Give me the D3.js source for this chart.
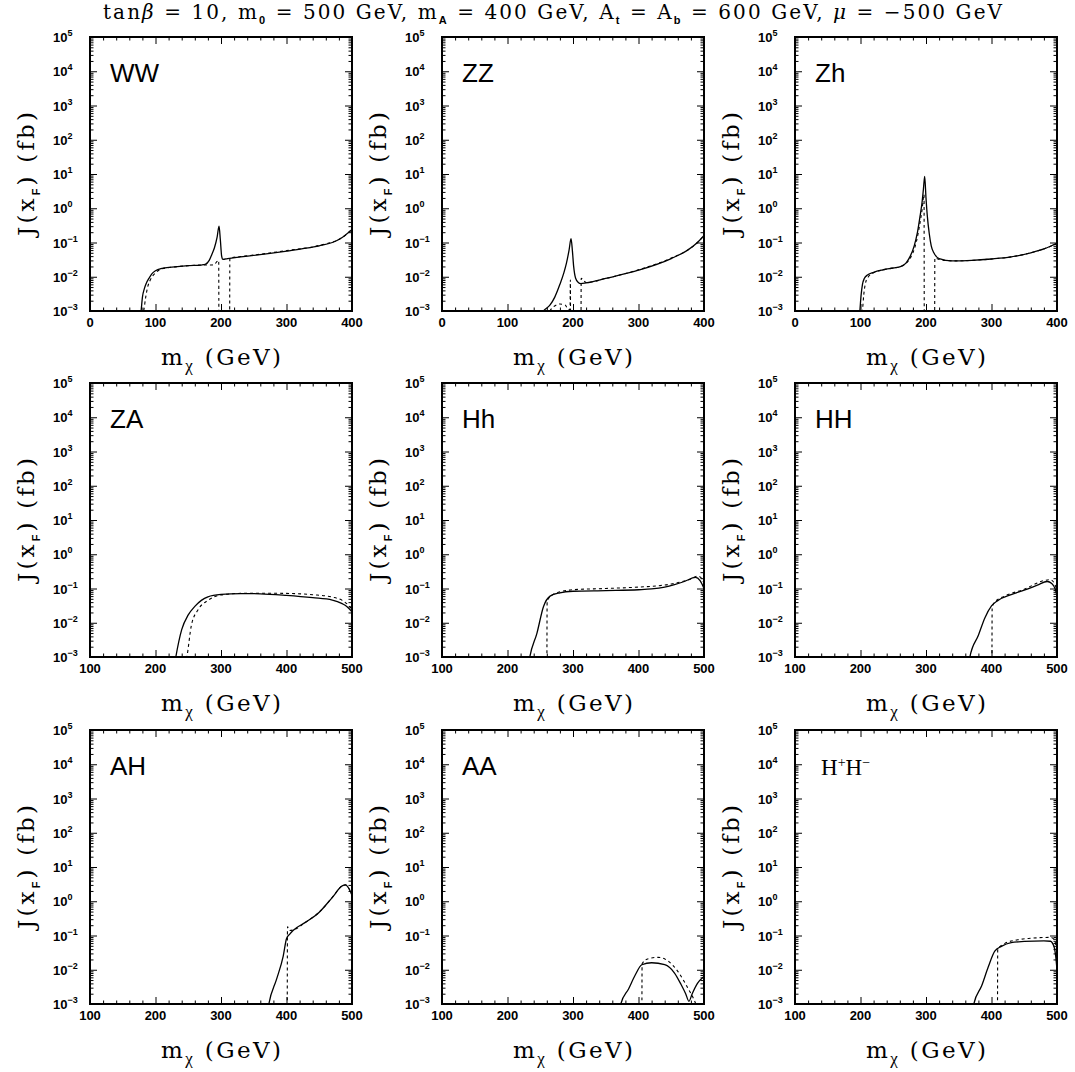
<!DOCTYPE html>
<html>
<head>
<meta charset="utf-8">
<script src="https://d3js.org/d3.v7.min.js"></script>
<style>
  body { margin: 0; background: #fff; }
  .frame { fill: none; stroke: #000; stroke-width: 2px; }
  .solid { fill: none; stroke: #000; stroke-width: 1.3px; }
  .dashed { fill: none; stroke: #000; stroke-width: 1.1px; stroke-dasharray: 3,3; }
  .mono { font-family: "DejaVu Serif", "Liberation Serif", serif; fill: #000; white-space: pre; }
</style>
</head>
<body>
<svg width="1075" height="1072"></svg>
<script>
// ---- data: [m_chi (GeV), J(x_F) (fb)] ----
var wwSolid = [[77,0.0007],[78,0.001],[80,0.0025],[83,0.0045],[86,0.0065],[90,0.009],[95,0.0125],[100,0.015],[110,0.0175],[125,0.019],[150,0.021],[170,0.022],[176,0.023],[182,0.03],[186,0.045],[190,0.07],[194,0.14],[197,0.3],[199,0.12],[201,0.04],[203,0.032],[210,0.034],[230,0.038],[250,0.042],[275,0.048],[300,0.056],[325,0.066],[350,0.08],[370,0.1],[385,0.14],[400,0.24]];
var wwDash = [[80,0.0007],[82,0.001],[85,0.0025],[88,0.005],[92,0.008],[100,0.013],[110,0.017],[125,0.019],[150,0.021],[175,0.022],[185,0.022],[190,0.023],[194,0.028],[196.5,0.03],[197,1e-5],[213,1e-5],[213.5,0.035],[230,0.039],[250,0.043],[300,0.058],[350,0.082],[385,0.14],[400,0.24]];

var zzSolid = [[150,0.0007],[155,0.001],[165,0.0015],[172,0.0025],[180,0.006],[186,0.013],[190,0.025],[194,0.06],[197,0.13],[199,0.06],[201,0.02],[204,0.009],[208,0.0068],[212,0.0063],[220,0.0066],[250,0.0089],[300,0.0155],[350,0.034],[375,0.06],[390,0.1],[400,0.16]];
var zzDash = [[160,0.0007],[166,0.0011],[172,0.0014],[180,0.0016],[188,0.0015],[193,0.0011],[195.5,0.0011],[196,0.008],[196.5,1e-5],[212,1e-5],[212.5,0.009],[220,0.0068],[250,0.0089],[300,0.016],[350,0.035],[375,0.06],[390,0.1],[400,0.16]];

var zhSolid = [[98,0.0006],[99,0.001],[101,0.003],[103,0.006],[106,0.009],[110,0.011],[120,0.0135],[135,0.016],[150,0.018],[162,0.02],[170,0.026],[176,0.04],[182,0.08],[187,0.2],[191,0.6],[194,1.5],[196,3.5],[198,8.5],[200,2.0],[202,0.6],[205,0.18],[208,0.08],[212,0.05],[220,0.034],[240,0.029],[270,0.03],[300,0.033],[330,0.038],[360,0.05],[380,0.065],[400,0.095]];
var zhDash = [[102,0.0006],[103,0.001],[105,0.003],[108,0.007],[112,0.01],[120,0.013],[135,0.016],[150,0.018],[162,0.02],[170,0.025],[176,0.035],[180,0.05],[185,0.1],[190,0.3],[194,0.9],[197,2.5],[197.5,1e-5],[213,1e-5],[213.5,0.035],[220,0.032],[240,0.029],[270,0.03],[300,0.033],[330,0.038],[360,0.05],[380,0.065],[400,0.095]];

var zaSolid = [[229,0.0006],[231,0.001],[240,0.0063],[250,0.017],[260,0.03],[270,0.045],[280,0.057],[300,0.067],[330,0.071],[360,0.07],[400,0.063],[440,0.054],[470,0.046],[485,0.036],[492,0.03],[500,0.021]];
var zaDash = [[246,0.0006],[248,0.001],[255,0.0088],[265,0.024],[280,0.045],[300,0.065],[330,0.072],[360,0.073],[400,0.072],[440,0.066],[470,0.056],[485,0.045],[495,0.032],[500,0.025]];

var hhSolid = [[232,0.0006],[234,0.001],[245,0.005],[255,0.03],[265,0.06],[280,0.075],[300,0.083],[350,0.087],[400,0.092],[420,0.097],[440,0.11],[455,0.13],[470,0.16],[487,0.21],[494,0.17],[500,0.1]];
var hhDash = [[260,1e-5],[260.5,0.04],[265,0.058],[280,0.08],[300,0.092],[350,0.1],[400,0.11],[430,0.12],[450,0.135],[470,0.165],[480,0.19],[490,0.23],[496,0.2],[500,0.14]];

var HHSolid = [[365,0.0006],[367,0.001],[380,0.0043],[390,0.014],[400,0.031],[410,0.045],[430,0.066],[450,0.09],[470,0.125],[485,0.16],[492,0.14],[497,0.1],[500,0.06]];
var HHDash = [[400.5,1e-5],[401,0.028],[405,0.04],[420,0.06],[450,0.095],[480,0.17],[490,0.18],[496,0.14],[500,0.09]];

var ahSolid = [[371,0.0006],[373,0.001],[385,0.0054],[395,0.025],[400,0.08],[405,0.11],[410,0.14],[430,0.25],[450,0.48],[470,1.3],[485,2.8],[490,3.0],[495,2.4],[500,1.5]];
var ahDash = [[401,1e-5],[401.5,0.18],[405,0.14],[410,0.145],[430,0.25],[450,0.48],[470,1.3],[485,2.8],[490,3.0],[495,2.4],[500,1.5]];

var aaSolid = [[371,0.0006],[373,0.001],[385,0.0028],[395,0.007],[405,0.014],[420,0.016],[440,0.014],[455,0.008],[465,0.0037],[472,0.002],[477,0.0012],[482,0.002],[490,0.004],[500,0.0064]];
var aaDash = [[405,1e-5],[405.5,0.015],[415,0.021],[430,0.023],[445,0.018],[460,0.009],[475,0.003],[485,0.0013],[492,0.0006]];

var hpmSolid = [[371,0.0006],[373,0.001],[385,0.0034],[395,0.012],[405,0.035],[415,0.048],[430,0.062],[450,0.067],[480,0.07],[490,0.068],[495,0.05],[498,0.025],[500,0.01]];
var hpmDash = [[409,1e-5],[409.5,0.04],[420,0.058],[440,0.075],[460,0.083],[490,0.088],[496,0.075],[500,0.03]];

var panelNames = ["WW","ZZ","Zh","ZA","Hh","HH","AH","AA","H+H-"];
var solids = [wwSolid, zzSolid, zhSolid, zaSolid, hhSolid, HHSolid, ahSolid, aaSolid, hpmSolid];
var dashes = [wwDash, zzDash, zhDash, zaDash, hhDash, HHDash, ahDash, aaDash, hpmDash];
var xDomains = [[0,400],[100,500],[100,500]];   // per row
var yExponents = [-3,-2,-1,0,1,2,3,4,5];

// ---- layout ----
var colLeft = [90, 442, 795], rowTop = [37, 383, 730], pw = 262, ph = 274;
var svg = d3.select("svg");
var defs = svg.append("defs");
var sans = "Liberation Sans, Arial, sans-serif";

function rich(sel, parts, small, shift) {
  var off = 0;
  parts.forEach(function(pt) {
    var t = sel.append("tspan").text(pt[0]);
    var target = pt[1] === "sub" ? shift : pt[1] === "sup" ? -shift : 0;
    if (target !== off) { t.attr("dy", target - off); off = target; }
    if (pt[1] !== "n") t.attr("font-size", small);
    if (pt[2]) t.attr("style", pt[2]);
  });
}

var subStyle = "font-family:" + sans + ";font-weight:bold";

// title
rich(svg.append("text").attr("class", "mono").attr("x", 103).attr("y", 19)
    .attr("font-size", 20).attr("textLength", 899).attr("lengthAdjust", "spacing"),
  [["tan","n"],["β","n","font-style:italic"],[" = 10, m","n"],["0","sub",subStyle],
   [" = 500 GeV, m","n"],["A","sub",subStyle],[" = 400 GeV, A","n"],["t","sub",subStyle],
   [" = A","n"],["b","sub",subStyle],[" = 600 GeV, ","n"],["μ","n","font-style:italic"],
   [" = −500 GeV","n"]], 11, 5);

panelNames.forEach(function(name, i) {
  var col = i % 3, row = Math.floor(i / 3);
  var g = svg.append("g").attr("transform", "translate(" + colLeft[col] + "," + rowTop[row] + ")");
  var dom = xDomains[row];
  var x = d3.scaleLinear().domain(dom).range([0, pw]);
  var y = d3.scaleLog().domain([1e-3, 1e5]).range([ph, 0]);

  var xMaj = d3.range(dom[0], dom[1] + 1, 100);
  var xMin = d3.range(dom[0], dom[1] + 1, 20).filter(function(v) { return v % 100 !== 0; });
  var yMaj = yExponents.map(function(e) { return Math.pow(10, e); });
  var yMin = [];
  yExponents.slice(0, -1).forEach(function(e) {
    for (var k = 2; k <= 9; k++) yMin.push(k * Math.pow(10, e));
  });

  function ax(gen, tr, vals, size) {
    var a = g.append("g").attr("transform", tr)
      .call(gen.tickValues(vals).tickSize(-size).tickSizeOuter(0).tickFormat(""));
    a.select(".domain").remove();
    return a;
  }
  [[7, xMaj, yMaj], [3.5, xMin, yMin]].forEach(function(s) {
    ax(d3.axisBottom(x), "translate(0," + ph + ")", s[1], s[0]);
    ax(d3.axisTop(x), "translate(0,0)", s[1], s[0]);
    ax(d3.axisLeft(y), "translate(0,0)", s[2], s[0]);
    ax(d3.axisRight(y), "translate(" + pw + ",0)", s[2], s[0]);
  });

  // x tick labels
  g.selectAll(".xlab").data(xMaj).enter().append("text")
    .attr("x", function(d) { return x(d); }).attr("y", ph + 16)
    .attr("text-anchor", "middle").attr("font-family", sans).attr("font-weight", "bold")
    .attr("font-size", 13).text(function(d) { return d; });

  // y tick labels
  g.selectAll(".ylab").data(yExponents).enter().append("text")
    .attr("x", -37).attr("y", function(d) { return y(Math.pow(10, d)) + 5; })
    .attr("font-family", sans).attr("font-weight", "bold").attr("font-size", 13)
    .each(function(d) {
      rich(d3.select(this), [["10","n"],[d < 0 ? "−" + (-d) : String(d),"sup"]], 9, 6);
    });

  defs.append("clipPath").attr("id", "clip" + i)
    .append("rect").attr("width", pw).attr("height", ph);

  var line = d3.line().curve(d3.curveMonotoneX)
    .x(function(d) { return x(d[0]); }).y(function(d) { return y(d[1]); });
  g.append("path").datum(dashes[i]).attr("class", "dashed").attr("clip-path", "url(#clip" + i + ")").attr("d", line);
  g.append("path").datum(solids[i]).attr("class", "solid").attr("clip-path", "url(#clip" + i + ")").attr("d", line);

  g.append("rect").attr("class", "frame").attr("width", pw).attr("height", ph);

  // panel label
  if (name === "H+H-") {
    rich(g.append("text").attr("x", 26).attr("y", 45).attr("font-family", "Liberation Serif, Times New Roman, serif")
      .attr("font-size", 23), [["H","n"],["+","sup"],["H","n"],["−","sup"]], 14, 8);
  } else {
    g.append("text").attr("x", 20).attr("y", 45).attr("font-family", sans)
      .attr("font-size", 26).text(name);
  }

  // axis titles
  rich(g.append("text").attr("class", "mono").attr("x", pw / 2 - 60).attr("y", ph + 54)
      .attr("font-size", 23).attr("textLength", 120).attr("lengthAdjust", "spacing"),
    [["m","n"],["χ","sub","font-family:Liberation Serif, serif"],[" (GeV)","n"]], 17, 6);
  rich(g.append("text").attr("class", "mono").attr("transform", "translate(-56," + (ph / 2 + 62) + ") rotate(-90)")
      .attr("font-size", 23).attr("textLength", 124).attr("lengthAdjust", "spacing"),
    [["J(x","n"],["F","sub",subStyle],[") (fb)","n"]], 11, 6);
});
</script>
</body>
</html>
